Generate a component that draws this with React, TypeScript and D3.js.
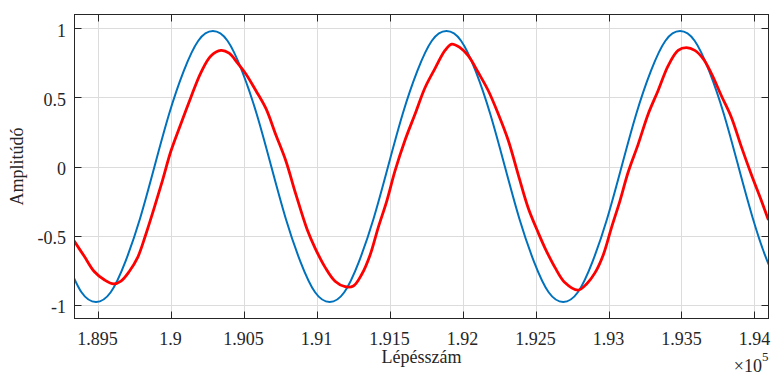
import React from "react";
import * as d3 from "d3";

// Blue reference series (step, amplitude), every 100 steps
const blueX: number[] = [
  189290, 189390, 189490, 189590, 189690, 189790, 189890, 189990, 190090, 190190,
  190290, 190390, 190490, 190590, 190690, 190790, 190890, 190990, 191090, 191190,
  191290, 191390, 191490, 191590, 191690, 191790, 191890, 191990, 192090, 192190,
  192290, 192390, 192490, 192590, 192690, 192790, 192890, 192990, 193090, 193190,
  193290, 193390, 193490, 193590, 193690, 193790, 193890, 193990, 194090, 194190,
];
const blueY: number[] = [
  -0.69, -0.91, -0.98, -0.91, -0.69, -0.38, 0, 0.38, 0.69, 0.91,
  0.98, 0.91, 0.69, 0.38, 0, -0.38, -0.69, -0.91, -0.98, -0.91,
  -0.69, -0.38, 0, 0.38, 0.69, 0.91, 0.98, 0.91, 0.69, 0.38,
  0, -0.38, -0.69, -0.91, -0.98, -0.91, -0.69, -0.38, 0, 0.38,
  0.69, 0.91, 0.98, 0.91, 0.69, 0.38, 0, -0.38, -0.69, -0.91,
];

// Red measured series (step, amplitude)
const redX: number[] = [
  189340, 189409, 189477, 189546, 189610, 189660, 189717, 189774, 189831, 189888,
  189945, 190002, 190071, 190139, 190208, 190276, 190345, 190401, 190458, 190516,
  190584, 190653, 190721, 190790, 190858, 190937, 190990, 191059, 191127, 191196,
  191252, 191310, 191367, 191423, 191481, 191538, 191606, 191675, 191743, 191812,
  191880, 191926, 191983, 192040, 192108, 192176, 192245, 192313, 192382, 192450,
  192519, 192565, 192633, 192701, 192792, 192850, 192907, 192964, 193021, 193078,
  193135, 193203, 193272, 193340, 193409, 193477, 193534, 193591, 193648, 193706,
  193774, 193842, 193911, 193979, 194048, 194093,
];
const redY: number[] = [
  -0.54, -0.65, -0.76, -0.82, -0.85, -0.83, -0.76, -0.66, -0.49, -0.3,
  -0.1, 0.11, 0.31, 0.5, 0.68, 0.8, 0.84, 0.82, 0.75, 0.67,
  0.55, 0.42, 0.23, 0.04, -0.2, -0.46, -0.59, -0.73, -0.83, -0.87,
  -0.865, -0.78, -0.64, -0.44, -0.25, -0.03, 0.19, 0.38, 0.57, 0.71,
  0.84, 0.886, 0.86, 0.8, 0.68, 0.55, 0.38, 0.19, -0.06, -0.3,
  -0.48, -0.59, -0.73, -0.84, -0.895, -0.85, -0.77, -0.64, -0.44, -0.25,
  -0.04, 0.16, 0.38, 0.55, 0.73, 0.84, 0.86, 0.84, 0.78, 0.67,
  0.51, 0.355, 0.14, -0.06, -0.25, -0.38,
];

const xTicks: number[] = [189500, 190000, 190500, 191000, 191500, 192000, 192500, 193000, 193500, 194000];
const xTickLabels: string[] = ["1.895", "1.9", "1.905", "1.91", "1.915", "1.92", "1.925", "1.93", "1.935", "1.94"];
const yTicks: number[] = [-1, -0.5, 0, 0.5, 1];
const yTickLabels: string[] = ["-1", "-0.5", "0", "0.5", "1"];

const xLabel = "Lépésszám";
const yLabel = "Amplitúdó";

export default function App() {
  const W = 773;
  const H = 374;
  const L = 74.5;
  const R = 768.5;
  const T = 14.5;
  const B = 318.5;

  const x = d3.scaleLinear().domain([189342, 194096]).range([L, R]);
  const y = d3.scaleLinear().domain([-1.1, 1.1]).range([B, T]);

  const blueLine = d3
    .line<number>()
    .x((_, i) => x(blueX[i]))
    .y((d) => y(d))
    .curve(d3.curveNatural);
  const redLine = d3
    .line<number>()
    .x((_, i) => x(redX[i]))
    .y((d) => y(d))
    .curve(d3.curveCatmullRom.alpha(0.5));

  const fontStyle = { fontFamily: "Liberation Serif, DejaVu Serif, Times New Roman, serif" };
  const axisColor = "#262626";
  const tickLen = 7;

  return (
    <div style={{ position: "absolute", left: 0, top: 0 }}>
      <svg width={W} height={H} style={{ display: "block", background: "#fff" }}>
        <defs>
          <clipPath id="plotClip">
            <rect x={L} y={T} width={R - L} height={B - T} />
          </clipPath>
        </defs>
        <rect x={L} y={T} width={R - L} height={B - T} fill="#fff" />
        {/* grid */}
        <g stroke="#dcdcdc" strokeWidth={1}>
          {xTicks.map((t) => (
            <line key={"gx" + t} x1={Math.round(x(t)) + 0.5} x2={Math.round(x(t)) + 0.5} y1={T} y2={B} />
          ))}
          {yTicks.map((t) => (
            <line key={"gy" + t} x1={L} x2={R} y1={Math.round(y(t)) + 0.5} y2={Math.round(y(t)) + 0.5} />
          ))}
        </g>
        {/* data */}
        <g clipPath="url(#plotClip)" fill="none" strokeLinejoin="round" strokeLinecap="round">
          <path d={blueLine(blueY) || ""} stroke="#0072BD" strokeWidth={2} />
          <path d={redLine(redY) || ""} stroke="#ff0000" strokeWidth={2.8} />
        </g>
        {/* box */}
        <rect x={L} y={T} width={R - L} height={B - T} fill="none" stroke={axisColor} strokeWidth={1} />
        {/* ticks */}
        <g stroke={axisColor} strokeWidth={1}>
          {xTicks.map((t) => {
            const px = Math.round(x(t)) + 0.5;
            return (
              <g key={"tx" + t}>
                <line x1={px} x2={px} y1={B} y2={B - tickLen} />
                <line x1={px} x2={px} y1={T} y2={T + tickLen} />
              </g>
            );
          })}
          {yTicks.map((t) => {
            const py = Math.round(y(t)) + 0.5;
            return (
              <g key={"ty" + t}>
                <line x1={L} x2={L + tickLen} y1={py} y2={py} />
                <line x1={R} x2={R - tickLen} y1={py} y2={py} />
              </g>
            );
          })}
        </g>
        {/* tick labels */}
        <g style={fontStyle} fontSize={18} fill={axisColor}>
          {xTicks.map((t, i) => (
            <text key={"lx" + t} x={x(t)} y={B + 26.5} textAnchor="middle">
              {xTickLabels[i]}
            </text>
          ))}
          {yTicks.map((t, i) => (
            <text key={"ly" + t} x={L - 8.5} y={y(t) + 8.5} textAnchor="end">
              {yTickLabels[i]}
            </text>
          ))}
        </g>
        {/* axis labels */}
        <text x={(L + R) / 2} y={363} textAnchor="middle" style={fontStyle} fontSize={18} fill={axisColor}>
          {xLabel}
        </text>
        <text
          transform={`translate(23, ${(T + B) / 2}) rotate(-90)`}
          textAnchor="middle"
          style={fontStyle}
          fontSize={18}
          fill={axisColor}
        >
          {yLabel}
        </text>
        {/* exponent */}
        <text x={R} y={371.5} textAnchor="end" style={fontStyle} fontSize={18} fill={axisColor}>
          ×10
          <tspan fontSize={13} dy={-11}>5</tspan>
        </text>
      </svg>
    </div>
  );
}
